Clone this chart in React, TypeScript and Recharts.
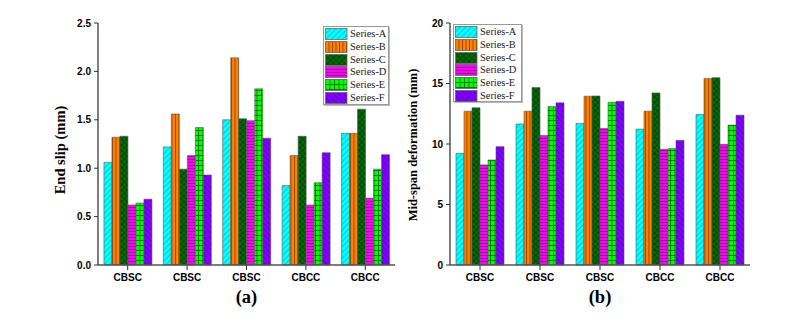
import React from 'react';
import { BarChart, Bar, XAxis, YAxis, Legend, Label } from 'recharts';

const categories = ['CBSC', 'CBSC', 'CBSC', 'CBCC', 'CBCC'];
const seriesKeys = ['A', 'B', 'C', 'D', 'E', 'F'];
const seriesNames = ['Series-A', 'Series-B', 'Series-C', 'Series-D', 'Series-E', 'Series-F'];

// (a) End slip (mm)
const slipA = [1.06, 1.22, 1.5, 0.82, 1.36];
const slipB = [1.32, 1.56, 2.14, 1.13, 1.36];
const slipC = [1.33, 0.99, 1.51, 1.33, 1.61];
const slipD = [0.62, 1.13, 1.49, 0.62, 0.69];
const slipE = [0.64, 1.42, 1.82, 0.85, 0.99];
const slipF = [0.68, 0.93, 1.31, 1.16, 1.14];
const slipTicks = [0, 0.5, 1.0, 1.5, 2.0, 2.5];

// (b) Mid-span deformation (mm)
const defA = [9.23, 11.65, 11.7, 11.23, 12.44];
const defB = [12.71, 12.71, 13.95, 12.71, 15.42];
const defC = [12.99, 14.66, 13.97, 14.22, 15.48];
const defD = [8.27, 10.71, 11.29, 9.56, 9.97];
const defE = [8.68, 13.1, 13.45, 9.62, 11.56];
const defF = [9.78, 13.4, 13.53, 10.3, 12.38];
const defTicks = [0, 5, 10, 15, 20];

function buildRows(series: number[][]) {
  return categories.map((c, i) => {
    const row: any = { idx: i, name: c };
    seriesKeys.forEach((k, j) => {
      row[k] = series[j][i];
    });
    return row;
  });
}

const slipRows = buildRows([slipA, slipB, slipC, slipD, slipE, slipF]);
const defRows = buildRows([defA, defB, defC, defD, defE, defF]);

const SERIF = '"Liberation Serif", "Times New Roman", serif';
const SANS = '"Liberation Sans", Arial, sans-serif';

function Patterns({ p }: { p: string }) {
  return (
    <defs>
      <pattern id={`${p}A`} width="4" height="4" patternUnits="userSpaceOnUse" patternTransform="rotate(45)">
        <rect width="4" height="4" fill="#00FFFF" />
        <line x1="0" y1="0" x2="0" y2="4" stroke="#2d8a9c" strokeWidth="1" />
      </pattern>
      <pattern id={`${p}B`} width="3.5" height="4" patternUnits="userSpaceOnUse">
        <rect width="3.5" height="4" fill="#FF8000" />
        <line x1="0.5" y1="0" x2="0.5" y2="4" stroke="#7a3c00" strokeWidth="0.8" />
      </pattern>
      <pattern id={`${p}C`} width="4" height="4" patternUnits="userSpaceOnUse" patternTransform="rotate(45)">
        <rect width="4" height="4" fill="#07680a" />
        <line x1="0" y1="0" x2="0" y2="4" stroke="#002200" strokeWidth="0.8" />
        <line x1="0" y1="0" x2="4" y2="0" stroke="#002200" strokeWidth="0.8" />
      </pattern>
      <pattern id={`${p}D`} width="4" height="3" patternUnits="userSpaceOnUse">
        <rect width="4" height="3" fill="#FF00FF" />
        <line x1="0" y1="0.5" x2="4" y2="0.5" stroke="#7a1a7a" strokeWidth="0.8" />
      </pattern>
      <pattern id={`${p}E`} width="4.5" height="5" patternUnits="userSpaceOnUse">
        <rect width="4.5" height="5" fill="#00FF00" />
        <line x1="0.5" y1="0" x2="0.5" y2="5" stroke="#136013" strokeWidth="0.8" />
        <line x1="0" y1="0.5" x2="4.5" y2="0.5" stroke="#136013" strokeWidth="0.8" />
      </pattern>
      <pattern id={`${p}F`} width="4" height="4" patternUnits="userSpaceOnUse" patternTransform="rotate(-45)">
        <rect width="4" height="4" fill="#8000FF" />
        <line x1="0" y1="0" x2="0" y2="4" stroke="#3c0078" strokeWidth="1" />
      </pattern>
    </defs>
  );
}

function LegendBox({ p, width, height }: { p: string; width: number; height: number }) {
  return (
    <div
      style={{
        width,
        height,
        boxSizing: 'border-box',
        border: '1px solid #999',
        boxShadow: '1px 1px 0 #bbb',
        background: '#fff',
        paddingTop: 1,
        paddingLeft: 1,
      }}
    >
      {seriesKeys.map((k, i) => (
        <div key={k} style={{ display: 'flex', alignItems: 'center', height: 12.7 }}>
          <svg width={23} height={12} style={{ display: 'block' }}>
            <rect x={0.5} y={0.5} width={21.5} height={11} fill={`url(#${p}${k})`} stroke="#666" strokeWidth={0.8} />
          </svg>
          <span style={{ fontFamily: SERIF, fontSize: 10.4, marginLeft: 2, color: '#222', lineHeight: '12px' }}>
            {seriesNames[i]}
          </span>
        </div>
      ))}
    </div>
  );
}

type PanelProps = {
  rows: any[];
  ticks: number[];
  fmt: (v: number) => string;
  yLabel: string;
  yLabelSize: number;
  yLabelDx: number;
  yLabelDy: number;
  letter: string;
  p: string;
  width: number;
  yAxisWidth: number;
  marginRight: number;
  legendLeft: number;
  legendTop: number;
  legendW: number;
  legendH: number;
};

function Panel(props: PanelProps) {
  const {
    rows, ticks, fmt, yLabel, yLabelSize, yLabelDx, yLabelDy, letter, p, width, yAxisWidth,
    marginRight, legendLeft, legendTop, legendW, legendH,
  } = props;
  const axisStroke = '#555';
  return (
    <BarChart
      width={width}
      height={322}
      data={rows}
      margin={{ top: 23, right: marginRight, bottom: 17, left: 0 }}
      barCategoryGap="10%"
      barGap={0}
    >
      <Patterns p={p} />
      <XAxis
        dataKey="idx"
        type="category"
        height={40}
        tickFormatter={(v: any) => categories[v]}
        tick={{ fontFamily: SANS, fontWeight: 'bold', fontSize: 10, fill: '#000' }}
        tickSize={5}
        tickMargin={4}
        tickLine={{ stroke: '#333' }}
        axisLine={{ stroke: axisStroke, strokeWidth: 1.5 }}
      >
        <Label
          content={(lp: any) => {
            const vb = lp.viewBox || {};
            const cx = vb.x + vb.width / 2;
            return (
              <text
                x={cx}
                y={297}
                textAnchor="middle"
                dominantBaseline="central"
                fontFamily={SERIF}
                fontWeight="bold"
                fontSize={18.5}
                fill="#000"
              >
                {letter}
              </text>
            );
          }}
        />
      </XAxis>
      <XAxis xAxisId="top" dataKey="idx" orientation="top" height={0} tick={false} tickLine={false} axisLine={{ stroke: '#333', strokeWidth: 1.5 }} />
      <YAxis
        width={yAxisWidth}
        domain={[ticks[0], ticks[ticks.length - 1]]}
        ticks={ticks}
        tickFormatter={fmt}
        tick={{ fontFamily: SANS, fontWeight: 'bold', fontSize: 10, fill: '#000' }}
        tickSize={4}
        tickMargin={3}
        tickLine={{ stroke: '#333' }}
        axisLine={{ stroke: axisStroke, strokeWidth: 1.5 }}
        interval={0}
      >
        <Label
          content={(lp: any) => {
            const vb = lp.viewBox || {};
            const cx = vb.x + vb.width / 2 + yLabelDx;
            const cy = vb.y + vb.height / 2 + yLabelDy;
            return (
              <text
                x={cx}
                y={cy}
                transform={`rotate(-90, ${cx}, ${cy})`}
                textAnchor="middle"
                dominantBaseline="central"
                fontFamily={SERIF}
                fontWeight="bold"
                fontSize={yLabelSize}
                fill="#000"
              >
                {yLabel}
              </text>
            );
          }}
        />
      </YAxis>
      <YAxis yAxisId="right" orientation="right" width={0} tick={false} tickLine={false} axisLine={{ stroke: '#777', strokeWidth: 2 }} />
      {seriesKeys.map((k, i) => (
        <Bar
          key={k}
          dataKey={k}
          name={seriesNames[i]}
          fill={`url(#${p}${k})`}
          stroke="#555"
          strokeWidth={0.6}
          isAnimationActive={false}
        />
      ))}
      <Legend
        layout="vertical"
        align="center"
        verticalAlign="middle"
        wrapperStyle={{ left: legendLeft, top: legendTop, width: legendW, height: legendH }}
        content={() => <LegendBox p={p} width={legendW} height={legendH} />}
      />
    </BarChart>
  );
}

export default function App() {
  return (
    <div style={{ position: 'absolute', left: 0, top: 0, width: 809, height: 322, background: '#fff' }}>
      <div style={{ position: 'absolute', left: 0, top: 0 }}>
        <Panel
          rows={slipRows}
          ticks={slipTicks}
          fmt={(v) => v.toFixed(1)}
          yLabel="End slip (mm)"
          yLabelSize={14.5}
          yLabelDx={11}
          yLabelDy={6}
          letter="(a)"
          p="pl"
          width={400}
          yAxisWidth={98}
          marginRight={5}
          legendLeft={323}
          legendTop={26}
          legendW={66}
          legendH={79}
        />
      </div>
      <div style={{ position: 'absolute', left: 400, top: 0 }}>
        <Panel
          rows={defRows}
          ticks={defTicks}
          fmt={(v) => String(v)}
          yLabel="Mid-span deformation (mm)"
          yLabelSize={12.5}
          yLabelDx={-12.3}
          yLabelDy={1}
          letter="(b)"
          p="pr"
          width={409}
          yAxisWidth={50}
          marginRight={59}
          legendLeft={53}
          legendTop={24}
          legendW={69}
          legendH={78}
        />
      </div>
    </div>
  );
}
